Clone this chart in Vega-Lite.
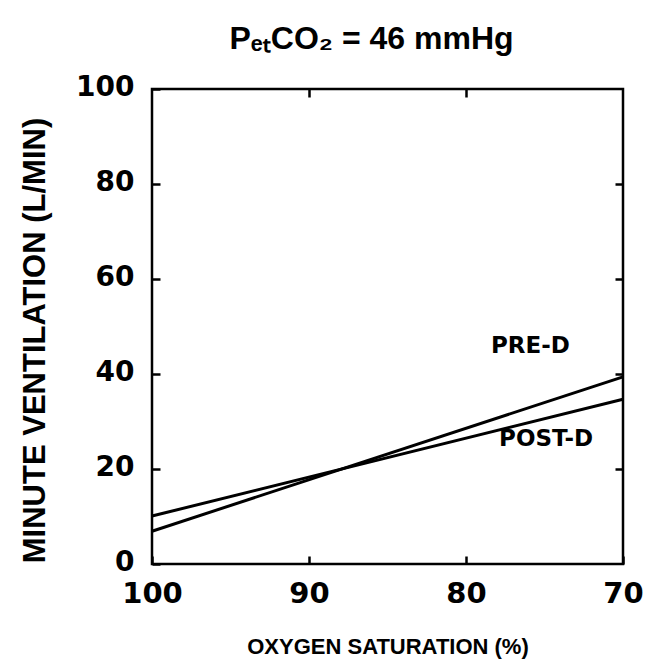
{
  "$schema": "https://vega.github.io/schema/vega-lite/v6.json",
  "autosize": {"type": "none"},
  "padding": {"left": 152, "top": 89, "right": 23, "bottom": 101},
  "width": 471,
  "height": 475,
  "background": "white",
  "config": {
    "font": "Liberation Sans",
    "view": {"stroke": "black", "strokeWidth": 2.5},
    "axis": {"grid": false, "domain": false}
  },
  "title": {
    "text": "P\u2091\u209cCO\u2082 = 46 mmHg",
    "fontSize": 32,
    "fontWeight": "bold",
    "color": "black",
    "anchor": "middle",
    "dx": -16,
    "offset": 17
  },
  "datasets": {
    "lines": [
      {"series": "PRE-D", "sat": 100, "vent": 6.9},
      {"series": "PRE-D", "sat": 70, "vent": 39.4},
      {"series": "POST-D", "sat": 100, "vent": 10.1},
      {"series": "POST-D", "sat": 70, "vent": 34.7}
    ],
    "labels": [
      {"label": "PRE-D", "sat": 75.9, "vent": 45.9},
      {"label": "POST-D", "sat": 74.9, "vent": 26.3}
    ]
  },
  "resolve": {"axis": {"x": "independent", "y": "independent"}},
  "layer": [
    {
      "data": {"name": "lines"},
      "mark": {"type": "line", "color": "black", "strokeWidth": 3},
      "encoding": {
        "x": {
          "field": "sat", "type": "quantitative",
          "scale": {"domain": [100, 70], "nice": false, "zero": false},
          "axis": {
            "values": [100, 90, 80, 70], "tickSize": -8, "tickWidth": 2.5, "tickColor": "black",
            "labelFont": "DejaVu Sans", "labelFontSize": 29, "labelFontWeight": "bold", "labelColor": "black",
            "labelPadding": 23, "labelFlush": false,
            "title": "OXYGEN SATURATION (%)", "titleFontSize": 22, "titleFontWeight": "bold",
            "titleColor": "black", "titlePadding": 28
          }
        },
        "y": {
          "field": "vent", "type": "quantitative",
          "scale": {"domain": [0, 100], "nice": false},
          "axis": {
            "values": [0, 20, 40, 60, 80, 100], "tickSize": -8, "tickWidth": 2.5, "tickColor": "black",
            "labelFont": "DejaVu Sans", "labelFontSize": 28, "labelFontWeight": "bold", "labelColor": "black",
            "labelPadding": 26, "labelFlush": false, "labelOffset": -2,
            "title": "MINUTE VENTILATION (L/MIN)", "titleFontSize": 31, "titleFontWeight": "bold",
            "titleColor": "black", "titlePadding": 24, "titleY": 251
          }
        },
        "detail": {"field": "series"}
      }
    },
    {
      "data": {"name": "labels"},
      "mark": {"type": "text", "font": "DejaVu Sans", "fontSize": 23, "fontWeight": "bold", "color": "black"},
      "encoding": {
        "x": {"field": "sat", "type": "quantitative",
          "axis": {"orient": "top", "values": [90, 80], "tickSize": -8, "tickWidth": 2.5, "tickColor": "black", "labels": false, "title": null}},
        "y": {"field": "vent", "type": "quantitative",
          "axis": {"orient": "right", "values": [20, 40, 60, 80], "tickSize": -8, "tickWidth": 2.5, "tickColor": "black", "labels": false, "title": null}},
        "text": {"field": "label"}
      }
    }
  ]
}
